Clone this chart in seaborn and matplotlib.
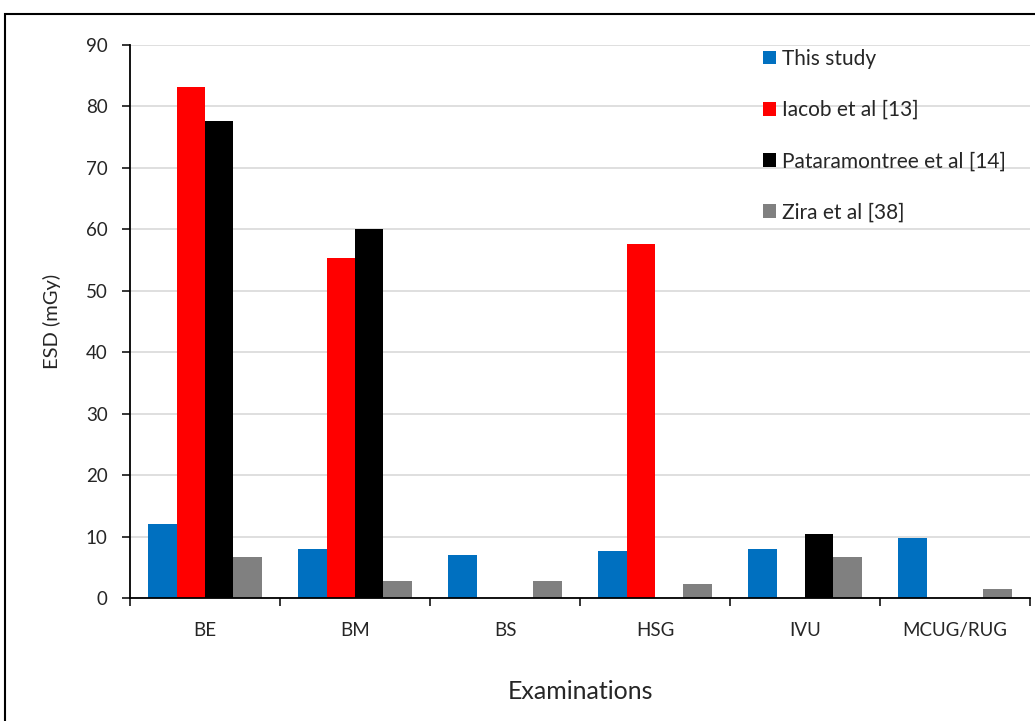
import numpy as np
import pandas as pd
import seaborn as sns
import matplotlib.pyplot as plt
from matplotlib.patches import Rectangle

exams = ["BE", "BM", "BS", "HSG", "IVU", "MCUG/RUG"]
studies = ["This study", "Iacob et al [13]", "Pataramontree et al [14]", "Zira et al [38]"]
this_study = [12.1, 7.9, 7.0, 7.6, 7.9, 9.8]
iacob = [83.2, 55.4, np.nan, 57.6, np.nan, np.nan]
pataramontree = [77.6, 60.0, np.nan, np.nan, 10.4, np.nan]
zira = [6.7, 2.8, 2.8, 2.3, 6.7, 1.5]
colors = ["#0070c0", "#ff0000", "#000000", "#808080"]

df = pd.DataFrame({
    "Examinations": exams * 4,
    "Study": [s for s in studies for _ in exams],
    "ESD": this_study + iacob + pataramontree + zira,
})

sns.set_style("white")
plt.rcParams['font.family'] = ['Lato', 'DejaVu Sans']

fig = plt.figure(figsize=(10.35, 7.21), dpi=100)
ax = fig.add_axes([130 / 1035, 1 - 598 / 721, 900 / 1035, 553 / 721])

sns.barplot(data=df, x="Examinations", y="ESD", hue="Study", hue_order=studies,
            order=exams, palette=colors, width=0.755, saturation=1,
            linewidth=0, ax=ax)

ax.set_ylim(0, 90)
ax.set_xlim(-0.5, 5.5)
ax.set_yticks(range(0, 91, 10))
ax.yaxis.grid(True, color="#d9d9d9", linewidth=1.2)
ax.set_axisbelow(True)
for s in ["top", "right"]:
    ax.spines[s].set_visible(False)
for s in ["left", "bottom"]:
    ax.spines[s].set_color("black")
    ax.spines[s].set_linewidth(1.3)
ax.tick_params(axis="y", left=True, length=6, width=1.3, labelsize=13.5, pad=10)
ax.tick_params(axis="x", which="major", length=0, labelsize=13.5, pad=17)
ax.set_xticks(np.arange(-0.5, 6, 1), minor=True)
ax.tick_params(axis="x", which="minor", bottom=True, length=6, width=1.3)
ax.set_xlabel("Examinations", fontsize=18, labelpad=30)
ax.set_ylabel("ESD (mGy)", fontsize=14.5, labelpad=18)

ax.legend(loc="upper left", bbox_to_anchor=(0.682, 1.027), frameon=False,
          fontsize=15, handlelength=0.65, handleheight=0.65, handletextpad=0.3,
          labelspacing=1.5)

fig.patches.append(Rectangle((5 / 1035, -0.01), 1.0, 1.01 - 14 / 721,
                             transform=fig.transFigure, fill=False,
                             edgecolor="black", linewidth=1.5))

plt.savefig("out.png", dpi=100)
